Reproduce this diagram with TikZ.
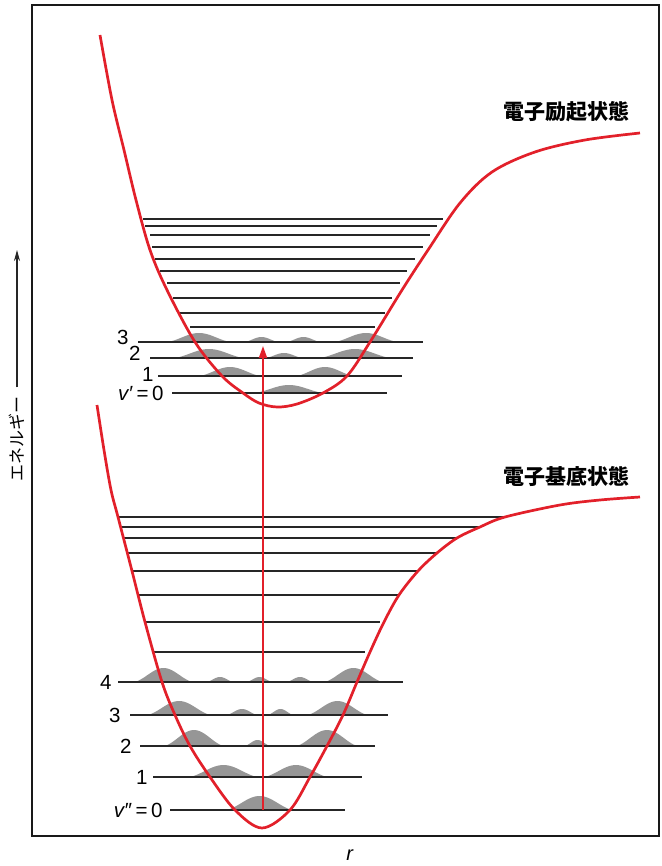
\documentclass[tikz,border=0pt]{standalone}
\usepackage{fontspec}
\setmainfont{Liberation Sans}
\newfontfamily\jpfont{Noto Sans CJK JP}
\usetikzlibrary{arrows.meta}
\definecolor{curvered}{RGB}{226,32,42}
\definecolor{humpgray}{RGB}{150,150,150}
% wave function lobe: x1, x2, y, height
\newcommand{\hump}[4]{\fill[humpgray] plot[domain=0:180, samples=31] ({#1+(#2-#1)*\x/180},{#3-#4*sin(\x)*(0.4+0.6*sin(\x))}) -- cycle;}

\begin{document}
\begin{tikzpicture}[
    x=1pt, y=-1pt,
    pes/.style = {draw=curvered, line width=2.7pt, line join=round},
    vlevel/.style = {draw=black!85, line width=1.1pt},
    lvlabel/.style = {anchor=east, inner xsep=6pt, inner ysep=0pt, text height=14.8pt, text depth=0pt, font=\fontsize{20.5}{20.5}\selectfont},
    statelabel/.style = {font=\jpfont\bfseries\fontsize{21}{24}\selectfont},
    trans/.style = {draw=curvered, line width=1.9pt, -{Triangle[length=12pt,width=8pt]}}
]
\useasboundingbox (0,0) rectangle (661,866);

% Frame
\draw[black!90, line width=1.6pt] (32,5) rectangle (659,836);

% Wave functions, excited state
\hump{255}{323}{393}{8}
\hump{200}{260}{376}{9} \hump{297}{353}{376}{9}
\hump{175}{243}{358}{9} \hump{266}{302}{358}{5} \hump{320}{390}{358}{9}
\hump{168}{230}{342}{9} \hump{245}{278}{342}{5} \hump{287}{320}{342}{5} \hump{335}{397}{342}{9}

% Wave functions, ground state
\hump{227}{292}{810}{14}
\hump{190}{257}{777}{12} \hump{265}{327}{777}{12}
\hump{165}{223}{746}{16} \hump{245}{270}{746}{6} \hump{297}{357}{746}{16}
\hump{148}{210}{715}{14} \hump{227}{257}{715}{6} \hump{268}{293}{715}{6} \hump{308}{367}{715}{14}
\hump{135}{192}{682}{14} \hump{207}{233}{682}{5} \hump{247}{272}{682}{5} \hump{287}{313}{682}{5} \hump{325}{382}{682}{14}

% Vibrational levels
\foreach \y/\a/\b in {219/143/443, 226/145/437, 235/150/430, 247/152/423, 259/155/415,
    271/160/407, 283/167/400, 298/173/392, 313/180/385, 327/190/375}
    \draw[vlevel] (\a,\y) -- (\b,\y);
\foreach \y/\a/\b in {517/118/503, 527/120/480, 538/123/457, 553/128/437, 571/132/418,
    595/138/398, 622/145/380, 652/152/365}
    \draw[vlevel] (\a,\y) -- (\b,\y);

\draw[vlevel] (138,342) node[lvlabel, yshift=5pt, inner xsep=9pt] (e3) {3} -- (423,342);
\draw[vlevel] (150,358) node[lvlabel, yshift=5pt, inner xsep=9pt] (e2) {2} -- (413,358);
\draw[vlevel] (158,376) node[lvlabel, yshift=2pt, inner xsep=4pt] (e1) {1} -- (402,376);
\draw[vlevel] (172,393) node[lvlabel, inner xsep=8pt] (e0) {\textit{v}′\,=\,0} -- (387,393);

\draw[vlevel] (118,682) node[lvlabel] (g4) {4} -- (403,682);
\draw[vlevel] (130,715) node[lvlabel, inner xsep=9pt] (g3) {3} -- (388,715);
\draw[vlevel] (140,746) node[lvlabel, inner xsep=8pt] (g2) {2} -- (375,746);
\draw[vlevel] (153,777) node[lvlabel, inner xsep=5pt] (g1) {1} -- (362,777);
\draw[vlevel] (170,810) node[lvlabel, inner xsep=7pt] (g0) {\textit{v}″\,=\,0} -- (345,810);

% Potential curves
\draw[pes] plot[smooth, tension=0.55] coordinates {(100,35) (112,100) (124,150) (136,200)
    (150,250) (167,290) (195,342) (222,376) (243,393) (259,403) (277,407) (297,404)
    (323,393) (347,376) (370,342) (402,290) (428,250) (460,203) (492,172) (535,152)
    (585,140) (640,133)};
\draw[pes] plot[smooth, tension=0.55] coordinates {(97,405) (104,450) (111,490) (118,517)
    (132,571) (145,622) (162,682) (175,715) (190,746) (210,777) (235,810) (262,828)
    (290,810) (310,777) (327,746) (343,715) (357,682) (370,652) (384,622) (399,595)
    (418,571) (437,553) (457,538) (480,527) (505,517) (560,505) (600,500) (640,497)};

% Labels
\node[statelabel] (exc) at (566,112) {電子励起状態};
\node[statelabel] (gnd) at (566,476) {電子基底状態};
\node[font=\fontsize{20}{20}\selectfont] (rlab) at (350,855) {\textit{r}};
\node[rotate=90, inner sep=9pt, font=\jpfont\fontsize{17}{17}\selectfont] (ylab) at (17,439) {エネルギー};
\coordinate (ytip) at (17,250);

% Transition
\coordinate (tlow) at (263,810);
\coordinate (thigh) at (263,346);
\draw[trans] (tlow) -- (thigh);
\draw[black!85, line width=1.4pt, -{Stealth[length=11pt,width=6pt]}] (ylab.east) -- (ytip);

\end{tikzpicture}
\end{document}
